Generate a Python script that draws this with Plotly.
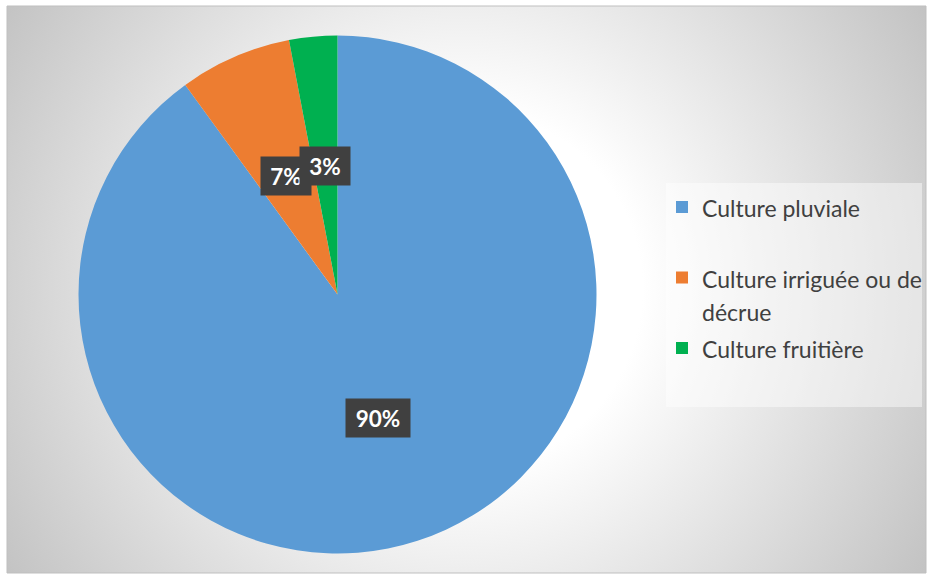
import math
import base64
import plotly.graph_objects as go

# ---------------- data ----------------
categories = ["Culture pluviale", "Culture irriguée ou de décrue", "Culture fruitière"]
legend_lines = [["Culture pluviale", " "], ["Culture irriguée ou de", "décrue"], ["Culture fruitière"]]
values = [90, 7, 3]
percent_labels = ["90%", "7%", "3%"]
colors = ["#5B9BD5", "#ED7D31", "#00B050"]

# ---------------- geometry (pixels) ----------------
W, H = 928, 578
cx, cy, R = 337.5, 294.5, 259

legend_labels = ["<br>".join(f'<span style="font-size:23px">{ln}</span>' for ln in lines)
                 for lines in legend_lines]

fig = go.Figure()
fig.add_trace(go.Pie(
    labels=legend_labels,
    values=values,
    customdata=categories,
    sort=False,
    direction="clockwise",
    rotation=0,
    marker=dict(colors=colors, line=dict(width=0)),
    textinfo="none",
    hoverinfo="skip",
    domain=dict(x=[(cx - R) / W, (cx + R) / W],
                y=[1 - (cy + R) / H, 1 - (cy - R) / H]),
))

# percentage labels at half radius, mid-angle of each slice
total = sum(values)
cum = 0.0
annotations = []
for v, txt in zip(values, percent_labels):
    mid = (cum + v / 2) / total * 2 * math.pi
    cum += v
    px = cx + 0.5 * R * math.sin(mid)
    py = cy - 0.5 * R * math.cos(mid)
    annotations.append(dict(
        x=px / W, y=1 - py / H, xref="paper", yref="paper",
        xanchor="center", yanchor="middle",
        text=f"<b>{txt}</b>", showarrow=False,
        font=dict(family="Lato", size=22.5, color="white"),
        bgcolor="#404040", borderpad=4, width=14 * len(txt) + 14, height=30,
    ))

# radial gradient background as inline SVG
bx0, by0, bx1, by1 = 7, 6, 926, 573
bw, bh = bx1 - bx0, by1 - by0
svg = f'''<svg xmlns="http://www.w3.org/2000/svg" width="{bw}" height="{bh}" viewBox="0 0 {bw} {bh}" preserveAspectRatio="none">
<defs><radialGradient id="g" gradientUnits="userSpaceOnUse" cx="{W/2 - bx0}" cy="{H/2 - by0}" r="540">
<stop offset="0" stop-color="#ffffff"/><stop offset="0.33" stop-color="#ffffff"/><stop offset="1" stop-color="#c3c3c3"/>
</radialGradient></defs><rect width="{bw}" height="{bh}" fill="url(#g)"/></svg>'''
src = "data:image/svg+xml;base64," + base64.b64encode(svg.encode()).decode()

fig.update_layout(
    width=W, height=H,
    margin=dict(l=0, r=0, t=0, b=0),
    paper_bgcolor="white",
    plot_bgcolor="rgba(0,0,0,0)",
    showlegend=True,
    legend=dict(
        x=662 / W, xanchor="left",
        y=1 - 278 / H, yanchor="middle",
        bgcolor="rgba(0,0,0,0)",
        font=dict(family="Lato", size=26, color="#404040"),
        valign="top",
    ),
    annotations=annotations,
    images=[dict(source=src, xref="paper", yref="paper",
                 x=bx0 / W, y=1 - by0 / H, sizex=bw / W, sizey=bh / H,
                 xanchor="left", yanchor="top", sizing="stretch", layer="below")],
    shapes=[
        dict(type="rect", xref="paper", yref="paper",
             x0=666 / W, x1=922 / W, y0=1 - 407 / H, y1=1 - 183 / H,
             fillcolor="rgba(255,255,255,0.45)", line=dict(width=0), layer="below"),
        dict(type="rect", xref="paper", yref="paper",
             x0=bx0 / W, x1=bx1 / W, y0=1 - by1 / H, y1=1 - by0 / H,
             fillcolor="rgba(0,0,0,0)", line=dict(color="#bfbfbf", width=1), layer="below"),
    ],
)

fig.write_html("out.html", config={"displayModeBar": False},
               post_script="document.body.style.margin='0';document.body.style.padding='0';")
